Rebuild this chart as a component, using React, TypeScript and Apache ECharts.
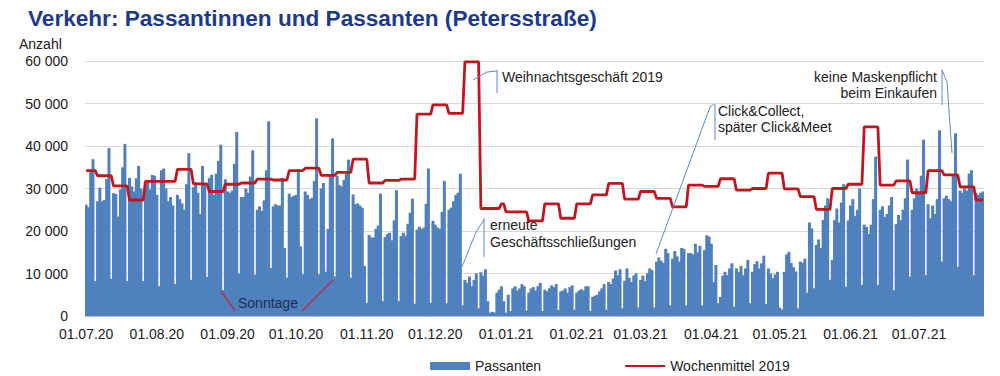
import React, { useEffect, useRef } from "react";
import * as echarts from "echarts";

// first day of the daily series (01.07.2020), one value per day
const firstDay = { year: 2020, month: 7, day: 1 };

// Passanten per day (01.07.20 – 29.07.21)
const passanten = [
  26200, 25600, 34000, 36900, 8200,
  27000, 30200, 27000, 27300, 32200, 39500, 8800,
  28900, 28700, 23400, 29800, 35000, 40500, 8200,
  32500, 30500, 29300, 32400, 35300, 30000, 8200,
  30500, 31500, 29800, 33200, 33000, 28500, 7000,
  34300, 34700, 30000, 27000, 28000, 26000, 7500,
  28500, 27500, 26500, 25000, 31000, 38300, 8500,
  30300, 31500, 29000, 24000, 35300, 31000, 9200,
  32500, 33200, 28500, 33500, 36500, 40300, 6100,
  32200, 29300, 29000, 29500, 35800, 43300, 10000,
  28000, 28000, 30000, 29000, 32800, 39000, 9700,
  25000, 25800, 24700, 27200, 34300, 45800, 11300,
  25800, 26300, 26000, 26000, 32500, 16000, 9000,
  28800, 28000, 28300, 28500, 34500, 16400, 9800,
  29300, 28500, 27500, 27800, 31800, 46500, 9800,
  30000, 31300, 10400, 20500, 33000, 41800, 9300,
  33000, 30800, 30500, 32000, 33500, 36800, 9000,
  28600, 26300, 26500, 26000, 25500, 11800, 3100,
  19100, 18500, 18500, 20500, 21300, 28800, 3500,
  18600, 19300, 19600, 17800, 22500, 29600, 3500,
  18800, 19600, 18900, 21700, 24300, 27600, 2900,
  20300, 21000, 20500, 20800, 26400, 34700, 3100,
  22400, 21500, 20800, 20500, 24500, 31800, 3000,
  25000, 25500, 27000, 28500, 29000, 33500, 2500,
  8500, 7800, 9300, 7000, 8500, 10000, 1800,
  10300, 9500, 11000, 3500, 800, 1000, 800,
  5500, 6200, 7000, 3500, 800, 5000, 1200,
  6500, 7000, 6000, 6500, 7500, 7000, 1300,
  5500, 6500, 6800, 6000, 7000, 7800, 1200,
  6200, 5800, 6500, 7200, 6800, 7500, 1400,
  5800, 6000, 6500, 5500, 6800, 7200, 1500,
  5500, 6000, 6300, 6000, 7000, 7000, 1200,
  4500, 4800, 5000, 5800, 6500, 7500, 1500,
  8000, 7500, 8800, 10700, 9600, 11000, 1800,
  8300, 11200, 9000, 8000, 9500, 10000, 2000,
  8500, 9500, 8200, 10000, 11200, 10800, 2000,
  12800, 13800, 13000, 12500, 15800, 14800, 2500,
  13500, 15300, 14000, 12800, 16000, 15800, 2500,
  14800, 14800, 14500, 17000, 15000, 16500, 2500,
  15500, 19000, 18700, 17000, 8000, 12000, 3000,
  4500, 9500, 10400, 9600, 11200, 12400, 2200,
  11200, 10400, 11800, 9600, 11200, 13200, 3000,
  10400, 12200, 12900, 11200, 12400, 14200, 2800,
  11200, 10000, 8900, 9800, 10400, 2000, 1500,
  10400, 14500, 15100, 12500, 11500, 10500, 1800,
  12800, 12500, 13500, 5500, 22000, 20600, 6500,
  16700, 18000, 16000, 22600, 26000, 27700, 8500,
  13200, 22500, 25300, 22000, 26700, 31000, 6900,
  22500, 26000, 27500, 23500, 25000, 30000, 7300,
  21500, 21000, 19300, 21500, 27500, 37500, 7300,
  25000, 25800, 23300, 24000, 26000, 28000, 6100,
  21600, 23800, 22600, 25000, 27700, 36800, 9300,
  25000, 27700, 30000, 29000, 33000, 41500, 9600,
  26300, 23000, 26000, 24000, 27500, 43700, 12800,
  27700, 28300, 27500, 27000, 33000, 43000, 11600,
  29500, 29000, 30000, 29500, 33500, 34300, 9600,
  29000, 28500, 29000, 29300,
];

// Wochenmittel 2019: value valid from the given day on
const avgFrom = [
  "01.07.20", "06.07.20", "13.07.20", "20.07.20", "27.07.20", "10.08.20",
  "17.08.20", "24.08.20", "31.08.20", "07.09.20", "14.09.20", "21.09.20",
  "28.09.20", "05.10.20", "12.10.20", "19.10.20", "26.10.20", "02.11.20",
  "09.11.20", "16.11.20", "23.11.20", "30.11.20", "07.12.20", "14.12.20",
  "21.12.20", "30.12.20", "01.01.21", "11.01.21", "18.01.21", "25.01.21",
  "01.02.21", "08.02.21", "15.02.21", "22.02.21", "01.03.21", "08.03.21",
  "15.03.21", "22.03.21", "29.03.21", "05.04.21", "12.04.21", "19.04.21",
  "26.04.21", "03.05.21", "10.05.21", "17.05.21", "24.05.21", "31.05.21",
  "07.06.21", "14.06.21", "21.06.21", "28.06.21", "05.07.21", "12.07.21",
  "19.07.21", "26.07.21",
];
const avgValue = [
  34200, 33000, 30600, 27300, 31700, 34500,
  31100, 29300, 31000, 31300, 32200, 32000,
  34200, 34800, 33100, 33800, 36900, 31300,
  31900, 32200, 47500, 49700, 47700, 59800,
  25300, 26400, 24500, 22400, 26400, 23000,
  26400, 28500, 31200, 27500, 29300, 27700,
  25700, 30800, 30500, 32300, 29600, 30000,
  33600, 29900, 28100, 25100, 30000, 31000,
  44500, 30800, 31800, 29000, 34200, 33200,
  30400, 27300,
];

const yMin = 0;
const yMax = 60000;
const yStep = 10000;

const FONT = '"Liberation Sans", Arial, sans-serif';
const BLUE = "#4f81bd";
const RED = "#c0161e";
const NOTE = "#5a8ac0";

const pad = (n: number) => (n < 10 ? "0" + n : String(n));
const days: string[] = passanten.map((_, i) => {
  const d = new Date(Date.UTC(firstDay.year, firstDay.month - 1, firstDay.day + i));
  return pad(d.getUTCDate()) + "." + pad(d.getUTCMonth() + 1) + "." + String(d.getUTCFullYear()).slice(2);
});
const avgDaily: number[] = days.map((_, i) => {
  let v = avgValue[0];
  for (let j = 0; j < avgFrom.length; j++) {
    const k = days.indexOf(avgFrom[j]);
    if (k >= 0 && k <= i) v = avgValue[j];
  }
  return v;
});

const monthStart = (_i: number, v: string) => v.startsWith("01.");
const thousands = (v: number) => String(v).replace(/\B(?=(\d{3})+(?!\d))/g, " ");

const txt = (text: string, x: number, y: number, size: number, fill: string, extra: any = {}) => ({
  type: "text",
  x,
  y,
  z: 100,
  silent: true,
  style: { text, x: 0, y: 0, fill, font: `${extra.weight || "normal"} ${size}px ${FONT}`, align: extra.align || "left", verticalAlign: "top" },
});
const pl = (points: number[][], stroke: string, lineWidth = 1) => ({
  type: "polyline",
  z: 100,
  silent: true,
  shape: { points },
  style: { stroke, lineWidth, fill: null },
});

export default function App() {
  const ref = useRef<HTMLDivElement>(null);
  useEffect(() => {
    if (!ref.current) return;
    const chart = echarts.init(ref.current, undefined, { renderer: "svg" });
    chart.setOption({
      animation: false,
      backgroundColor: "#ffffff",
      textStyle: { fontFamily: FONT },
      grid: { left: 85, right: 16, top: 61, bottom: 60 },
      legend: {
        left: 430,
        top: 359,
        padding: 0,
        itemWidth: 40,
        itemHeight: 8,
        itemGap: 83,
        textStyle: { fontSize: 14, color: "#222", fontFamily: FONT },
        data: [
          { name: "Passanten", icon: "rect" },
          { name: "Wochenmittel 2019", itemStyle: { opacity: 0 } },
        ],
      },
      xAxis: {
        type: "category",
        data: days,
        boundaryGap: true,
        axisLine: { lineStyle: { color: "#bfbfbf" } },
        axisTick: { interval: monthStart, length: 5, lineStyle: { color: "#bfbfbf" } },
        axisLabel: { interval: monthStart, fontSize: 14, color: "#1a1a1a", fontFamily: FONT, margin: 11 },
      },
      yAxis: {
        type: "value",
        min: yMin,
        max: yMax,
        interval: yStep,
        axisLine: { show: false },
        axisTick: { show: false },
        axisLabel: { formatter: thousands, fontSize: 14, color: "#1a1a1a", fontFamily: FONT, margin: 17 },
        splitLine: { lineStyle: { color: "#d9d9d9", width: 1 } },
      },
      series: [
        {
          name: "Passanten",
          type: "bar",
          data: passanten,
          barWidth: 3,
          itemStyle: { color: BLUE },
        },
        {
          name: "Wochenmittel 2019",
          type: "line",
          data: avgDaily,
          symbol: "none",
          showSymbol: false,
          lineStyle: { color: RED, width: 2.8 },
          itemStyle: { color: RED },
          z: 3,
        },
      ],
      graphic: [
        txt("Verkehr: Passantinnen und Passanten (Petersstraße)", 28, 7, 22.6, "#1c3a8c", { weight: "bold" }),
        txt("Anzahl", 19, 37, 14, "#1a1a1a"),
        // Sonntage
        pl([[221, 291], [235, 311]], "#b5304a", 1.5),
        pl([[302, 311], [333, 280]], "#b5304a", 1.5),
        txt("Sonntage", 238, 296, 14, "#1f2a5a"),
        // Weihnachtsgeschäft 2019
        pl([[473, 80], [487, 72], [497, 71]], NOTE),
        pl([[497, 70], [497, 93]], NOTE),
        txt("Weihnachtsgeschäft 2019", 502, 70, 14, "#222"),
        // erneute Geschäftsschließungen
        pl([[462, 267], [476, 232], [484, 220]], NOTE),
        pl([[484, 218], [484, 257]], NOTE),
        txt("erneute", 490, 218, 14, "#222"),
        txt("Geschäftsschließungen", 490, 235, 14, "#222"),
        // Click&Collect
        pl([[656, 254], [710, 107], [714, 104]], NOTE),
        pl([[715, 104], [715, 140]], NOTE),
        txt("Click&Collect,", 718, 104, 14, "#222"),
        txt("später Click&Meet", 718, 120, 14, "#222"),
        // keine Maskenpflicht
        pl([[942, 70], [942, 105]], NOTE),
        pl([[942, 70], [947, 82], [952, 153]], NOTE),
        txt("keine Maskenpflicht", 937, 70, 14, "#222", { align: "right" }),
        txt("beim Einkaufen", 937, 86, 14, "#222", { align: "right" }),
      ],
    });
    return () => chart.dispose();
  }, []);
  return <div ref={ref} style={{ position: "absolute", left: 0, top: 0, width: 1000, height: 376 }} />;
}
